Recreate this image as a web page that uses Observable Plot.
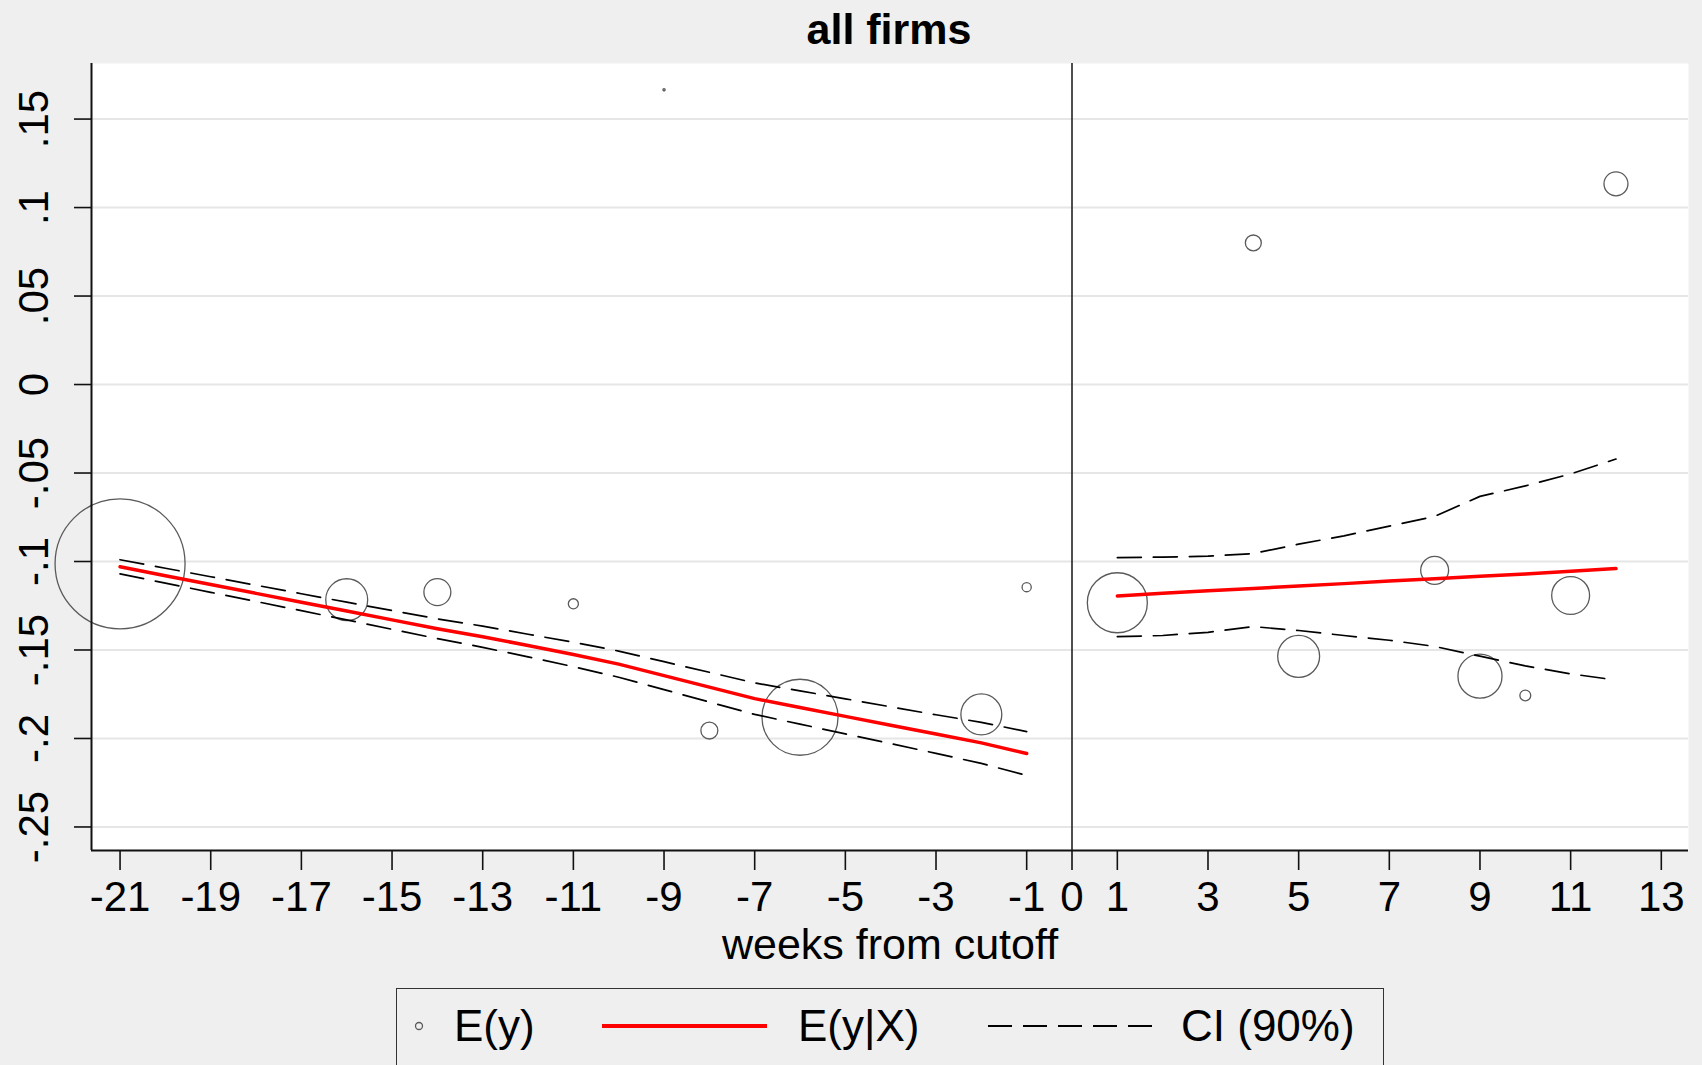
<!DOCTYPE html>
<html>
<head>
<meta charset="utf-8">
<script src="https://cdn.jsdelivr.net/npm/d3@7"></script>
<script src="https://cdn.jsdelivr.net/npm/@observablehq/plot@0.6"></script>
<style>
html, body { margin:0; padding:0; background:#efefef; width:1702px; height:1065px; overflow:hidden;
  font-family:"Liberation Sans", Arial, sans-serif; }
#title { box-sizing:border-box; width:1702px; height:58px; line-height:58px; padding-left:76px;
  text-align:center; font-size:43px; font-weight:bold; color:#000; }
#chart { position:absolute; left:0; top:58px; }
#legend { position:absolute; left:396px; top:988px; width:988px; height:100px; box-sizing:border-box;
  border:1.5px solid #333; background:#efefef; }
</style>
</head>
<body>
<div id="title">all firms</div>
<div id="chart"></div>
<div id="legend"></div>
<script>
// ---- data ----
const pointWeeks   = [-21, -16, -14, -11, -9, -8, -6, -2, -1, 1, 4, 5, 8, 9, 10, 11, 12];
const pointMeans   = [-0.1013, -0.1216, -0.1173, -0.1239, 0.1665, -0.1955, -0.188, -0.1864, -0.1145,
                      -0.1233, 0.080, -0.1536, -0.105, -0.1648, -0.1757, -0.1192, 0.1134];
const pointWeights = [1000, 104, 43, 6, 0.3, 17, 342, 99, 5, 213, 15, 104, 46, 115, 7, 85, 34];

const weeksLeft = [-21, -20, -19, -18, -17, -16, -15, -14, -13, -12, -11, -10, -9, -8, -7, -6, -5, -4, -3, -2, -1];
const fitLeft   = [-0.103, -0.108, -0.113, -0.118, -0.123, -0.128, -0.133, -0.138, -0.1425, -0.1475, -0.1525,
                   -0.158, -0.1645, -0.171, -0.1775, -0.1825, -0.1875, -0.1925, -0.1975, -0.2025, -0.2085];
const ciHiLeft  = [-0.099, -0.1038, -0.1086, -0.1134, -0.1182, -0.123, -0.1277, -0.1324, -0.1365, -0.1411, -0.1456,
                   -0.1506, -0.1566, -0.1626, -0.1686, -0.1731, -0.1776, -0.1821, -0.1866, -0.1909, -0.1961];
const ciLoLeft  = [-0.107, -0.1122, -0.1174, -0.1226, -0.1278, -0.133, -0.1383, -0.1436, -0.1485, -0.1539, -0.1594,
                   -0.1654, -0.1724, -0.1794, -0.1864, -0.1919, -0.1974, -0.2029, -0.2084, -0.2141, -0.2209];

const weeksRight = [1, 2, 3, 4, 5, 6, 7, 8, 9, 10, 11, 12];
const fitRight   = [-0.1195, -0.118, -0.1165, -0.1152, -0.1138, -0.1125, -0.111, -0.1097, -0.1083, -0.107, -0.1055, -0.104];
const ciHiRight  = [-0.0978, -0.0975, -0.097, -0.0955, -0.0902, -0.0855, -0.080, -0.0745, -0.0632, -0.0573, -0.0505, -0.0421];
const ciLoRight  = [-0.1425, -0.1418, -0.140, -0.1368, -0.139, -0.1418, -0.1445, -0.148, -0.1535, -0.159, -0.1635, -0.167];

const xTicks      = [-21, -19, -17, -15, -13, -11, -9, -7, -5, -3, -1, 0, 1, 3, 5, 7, 9, 11, 13];
const xTickLabels = ["-21", "-19", "-17", "-15", "-13", "-11", "-9", "-7", "-5", "-3", "-1", "0", "1", "3", "5", "7", "9", "11", "13"];
const yTicks      = [0.15, 0.1, 0.05, 0, -0.05, -0.1, -0.15, -0.2, -0.25];
const yTickLabels = [".15", ".1", ".05", "0", "-.05", "-.1", "-.15", "-.2", "-.25"];

const xDomain = [-21.63, 13.6];
const yDomain = [-0.2633, 0.1814];

// ---- tables built from the arrays ----
const points = pointWeeks.map((w, i) => ({week: w, mean: pointMeans[i], weight: pointWeights[i]}));
const left  = weeksLeft.map((w, i) => ({week: w, fit: fitLeft[i], hi: ciHiLeft[i], lo: ciLoLeft[i]}));
const right = weeksRight.map((w, i) => ({week: w, fit: fitRight[i], hi: ciHiRight[i], lo: ciLoRight[i]}));

const dash = "24,12";
const chart = Plot.plot({
  width: 1702,
  height: 902,
  marginLeft: 91,
  marginRight: 14,
  marginTop: 5,
  marginBottom: 110,
  style: {background: "transparent", fontFamily: "'Liberation Sans', Arial, sans-serif", color: "#000", overflow: "visible"},
  x: {domain: xDomain, axis: null},
  y: {domain: yDomain, axis: null},
  r: {type: "sqrt", domain: [0, 1000], range: [0, 65]},
  marks: [
    Plot.frame({fill: "white", stroke: null}),
    Plot.gridY(yTicks, {stroke: "#e6e6e6", strokeOpacity: 1, strokeWidth: 2}),
    Plot.ruleX([0], {stroke: "#222", strokeWidth: 1.6}),
    Plot.dot(points, {x: "week", y: "mean", r: "weight", stroke: "#5a5a5a", strokeWidth: 1.3, fill: "none"}),
    Plot.line(left, {x: "week", y: "hi", stroke: "black", strokeWidth: 1.7, strokeDasharray: dash}),
    Plot.line(left, {x: "week", y: "lo", stroke: "black", strokeWidth: 1.7, strokeDasharray: dash}),
    Plot.line(right, {x: "week", y: "hi", stroke: "black", strokeWidth: 1.7, strokeDasharray: dash}),
    Plot.line(right, {x: "week", y: "lo", stroke: "black", strokeWidth: 1.7, strokeDasharray: dash}),
    Plot.line(left, {x: "week", y: "fit", stroke: "#ff0000", strokeWidth: 3.5}),
    Plot.line(right, {x: "week", y: "fit", stroke: "#ff0000", strokeWidth: 3.5}),
    Plot.ruleX([xDomain[0]], {stroke: "#111", strokeWidth: 2}),
    Plot.ruleY([yDomain[0]], {stroke: "#111", strokeWidth: 2}),
    Plot.axisY(yTicks, {tickSize: 17, tickFormat: () => "", stroke: "#111", strokeWidth: 1.6, label: null}),
    Plot.text(yTicks, {y: d => d, text: d => yTickLabels[yTicks.indexOf(d)], frameAnchor: "left", dx: -57,
      rotate: -90, fontSize: 42, textAnchor: "middle", lineAnchor: "middle"}),
    Plot.axisX(xTicks, {tickSize: 20, tickPadding: 11, fontSize: 42, stroke: "#111", strokeWidth: 1.6,
      tickFormat: d => xTickLabels[xTicks.indexOf(d)], label: null}),
    Plot.text(["weeks from cutoff"], {frameAnchor: "bottom", dy: 95, fontSize: 43, lineAnchor: "middle", text: d => d})
  ]
});
document.getElementById("chart").appendChild(chart);

// ---- legend ----
const ns = "http://www.w3.org/2000/svg";
const lg = document.createElementNS(ns, "svg");
lg.setAttribute("width", 985); lg.setAttribute("height", 90);
lg.style.fontFamily = "'Liberation Sans', Arial, sans-serif";
const legendItems = [
  {label: "E(y)", kind: "dot", x0: 22, tx: 57},
  {label: "E(y|X)", kind: "line", x0: 205, x1: 370, tx: 401},
  {label: "CI (90%)", kind: "dash", x0: 591, x1: 756, tx: 784}
];
const cy = 37;
for (const it of legendItems) {
  if (it.kind === "dot") {
    const c = document.createElementNS(ns, "circle");
    c.setAttribute("cx", it.x0); c.setAttribute("cy", cy); c.setAttribute("r", 3.5);
    c.setAttribute("fill", "none"); c.setAttribute("stroke", "#5a5a5a"); c.setAttribute("stroke-width", 1.3);
    lg.appendChild(c);
  } else {
    const l = document.createElementNS(ns, "line");
    l.setAttribute("x1", it.x0); l.setAttribute("x2", it.x1); l.setAttribute("y1", cy); l.setAttribute("y2", cy);
    l.setAttribute("stroke", it.kind === "line" ? "#ff0000" : "black");
    l.setAttribute("stroke-width", it.kind === "line" ? 4 : 1.8);
    if (it.kind === "dash") l.setAttribute("stroke-dasharray", "24,11");
    lg.appendChild(l);
  }
  const t = document.createElementNS(ns, "text");
  t.setAttribute("x", it.tx); t.setAttribute("y", cy); t.setAttribute("dy", "0.35em");
  t.setAttribute("font-size", 44); t.textContent = it.label;
  lg.appendChild(t);
}
document.getElementById("legend").appendChild(lg);
</script>
</body>
</html>
